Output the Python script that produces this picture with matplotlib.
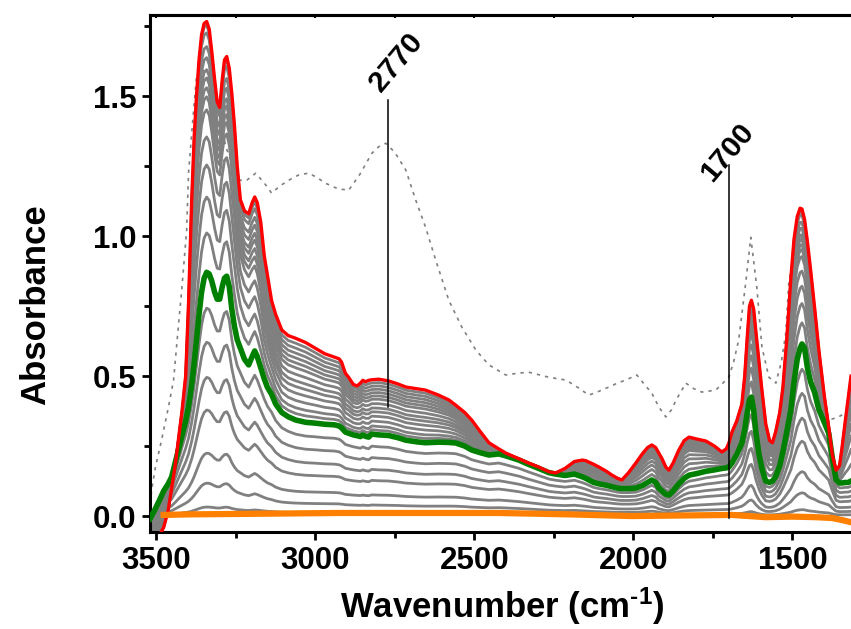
import numpy as np
import matplotlib
matplotlib.use("Agg")
import matplotlib.pyplot as plt
from matplotlib.ticker import MultipleLocator, FormatStrFormatter, NullFormatter

plt.rcParams["font.family"] = ["Liberation Sans", "DejaVu Sans"]
plt.rcParams["font.weight"] = "bold"
plt.rcParams["mathtext.fontset"] = "custom"
plt.rcParams["mathtext.rm"] = "Liberation Sans:bold"
plt.rcParams["mathtext.it"] = "Liberation Sans:bold"
plt.rcParams["mathtext.bf"] = "Liberation Sans:bold"

# --- spectra (wavenumber in cm-1, absorbance) ---
wavenumber = [3519, 3505, 3490, 3476, 3462, 3451, 3440, 3429, 3418, 3407,
              3398, 3388, 3380, 3373, 3365, 3357, 3349, 3341, 3333, 3325,
              3316, 3308, 3300, 3292, 3285, 3278, 3270, 3262, 3254, 3245,
              3235, 3222, 3209, 3198, 3190, 3182, 3171, 3160, 3150, 3137,
              3124, 3105, 3085, 3061, 3030, 3000, 2970, 2940, 2925, 2917,
              2905, 2895, 2880, 2868, 2858, 2850, 2842, 2832, 2822, 2800,
              2770, 2740, 2715, 2680, 2653, 2612, 2580, 2558, 2530, 2508,
              2480, 2454, 2423, 2401, 2360, 2330, 2297, 2265, 2244, 2215,
              2185, 2160, 2150, 2125, 2108, 2085, 2067, 2050, 2036, 2015,
              1992, 1970, 1955, 1942, 1930, 1920, 1910, 1898, 1888, 1875,
              1857, 1840, 1825, 1800, 1772, 1745, 1722, 1708, 1700, 1690,
              1675, 1659, 1650, 1642, 1635, 1629, 1622, 1615, 1605, 1596,
              1584, 1572, 1563, 1553, 1540, 1530, 1518, 1505, 1495, 1485,
              1476, 1470, 1462, 1453, 1443, 1430, 1417, 1400, 1386, 1375,
              1363, 1352, 1344, 1335, 1325, 1316]

red_abs = [-0.16, -0.11, -0.07, -0.04, 0.02, 0.10, 0.18, 0.28, 0.38, 0.50,
           0.76, 1.13, 1.36, 1.50, 1.63, 1.72, 1.76, 1.767, 1.74, 1.66,
           1.56, 1.48, 1.46, 1.56, 1.63, 1.642, 1.60, 1.51, 1.40, 1.25,
           1.13, 1.09, 1.08, 1.12, 1.14, 1.12, 1.05, 0.93, 0.86, 0.77,
           0.72, 0.665, 0.645, 0.635, 0.62, 0.60, 0.58, 0.568, 0.562, 0.55,
           0.51, 0.496, 0.47, 0.465, 0.475, 0.485, 0.48, 0.485, 0.487, 0.489,
           0.483, 0.472, 0.461, 0.455, 0.45, 0.432, 0.415, 0.396, 0.37, 0.343,
           0.30, 0.262, 0.240, 0.225, 0.205, 0.19, 0.175, 0.158, 0.154, 0.17,
           0.195, 0.20, 0.198, 0.185, 0.175, 0.16, 0.146, 0.135, 0.129, 0.155,
           0.19, 0.225, 0.245, 0.254, 0.245, 0.225, 0.205, 0.175, 0.164, 0.19,
           0.236, 0.27, 0.282, 0.275, 0.268, 0.25, 0.229, 0.24, 0.26, 0.30,
           0.34, 0.40, 0.50, 0.64, 0.75, 0.771, 0.74, 0.66, 0.55, 0.45,
           0.33, 0.27, 0.262, 0.30, 0.37, 0.46, 0.63, 0.85, 0.99, 1.07,
           1.10, 1.097, 1.06, 0.98, 0.88, 0.74, 0.593, 0.43, 0.318, 0.22,
           0.164, 0.18, 0.246, 0.33, 0.42, 0.50]

green_abs = [-0.01, 0.02, 0.055, 0.09, 0.115, 0.14, 0.19, 0.24, 0.29, 0.34,
             0.39, 0.47, 0.55, 0.63, 0.72, 0.80, 0.85, 0.871, 0.865, 0.84,
             0.80, 0.775, 0.775, 0.82, 0.85, 0.857, 0.82, 0.74, 0.68, 0.63,
             0.60, 0.56, 0.54, 0.57, 0.59, 0.57, 0.53, 0.49, 0.46, 0.435,
             0.40, 0.37, 0.355, 0.343, 0.335, 0.332, 0.328, 0.326, 0.322, 0.315,
             0.30, 0.296, 0.29, 0.287, 0.284, 0.29, 0.285, 0.282, 0.293, 0.290,
             0.288, 0.28, 0.271, 0.265, 0.262, 0.264, 0.263, 0.261, 0.25, 0.236,
             0.226, 0.218, 0.222, 0.215, 0.20, 0.185, 0.17, 0.155, 0.15, 0.145,
             0.15, 0.14, 0.135, 0.12, 0.115, 0.11, 0.105, 0.10, 0.098, 0.098,
             0.10, 0.11, 0.12, 0.129, 0.12, 0.10, 0.09, 0.078, 0.075, 0.09,
             0.115, 0.135, 0.146, 0.152, 0.16, 0.165, 0.17, 0.172, 0.175, 0.19,
             0.22, 0.261, 0.31, 0.37, 0.415, 0.425, 0.38, 0.30, 0.22, 0.17,
             0.125, 0.12, 0.125, 0.14, 0.18, 0.23, 0.30, 0.38, 0.48, 0.56,
             0.60, 0.615, 0.60, 0.53, 0.48, 0.44, 0.38, 0.335, 0.296, 0.21,
             0.13, 0.118, 0.118, 0.12, 0.12, 0.125]

orange_wn = [3476, 3400, 3200, 2926, 2700, 2423, 2200, 2005, 1850, 1690,
             1584, 1500, 1426, 1376, 1345, 1316]
orange_abs = [0.004, 0.006, 0.008, 0.011, 0.011, 0.011, 0.006, 0.0, 0.002, 0.004,
              -0.004, -0.002, -0.004, -0.007, -0.014, -0.022]

dotted_wn = [3523, 3514, 3502, 3483, 3461, 3445, 3429, 3420, 3404, 3398,
             3385, 3373, 3355, 3330, 3303, 3281, 3250, 3241, 3215, 3187,
             3160, 3137, 3110, 3083, 3050, 3020, 2995, 2967, 2930, 2895,
             2860, 2822, 2800, 2778, 2750, 2715, 2684, 2653, 2621, 2580,
             2539, 2495, 2454, 2401, 2365, 2329, 2266, 2212, 2175, 2140,
             2110, 2077, 2050, 2024, 1989, 1965, 1942, 1920, 1898, 1880,
             1866, 1835, 1810, 1785, 1741, 1700, 1685, 1669, 1647, 1631,
             1612, 1596, 1574, 1552, 1535, 1521, 1511, 1490, 1470, 1450,
             1430, 1417, 1386, 1355, 1320]
dotted_abs = [-0.014, 0.093, 0.175, 0.27, 0.39, 0.486, 0.69, 0.8, 1.02, 1.225,
              1.41, 1.57, 1.60, 1.55, 1.45, 1.32, 1.225, 1.2, 1.2, 1.225,
              1.19, 1.154, 1.18, 1.2, 1.22, 1.225, 1.21, 1.189, 1.17, 1.164,
              1.22, 1.296, 1.32, 1.332, 1.30, 1.236, 1.129, 1.032, 0.914, 0.771,
              0.675, 0.593, 0.54, 0.504, 0.51, 0.514, 0.496, 0.486, 0.46, 0.432,
              0.445, 0.461, 0.475, 0.486, 0.504, 0.47, 0.439, 0.39, 0.354, 0.38,
              0.414, 0.475, 0.455, 0.443, 0.45, 0.496, 0.55, 0.629, 0.832, 0.996,
              0.818, 0.604, 0.496, 0.475, 0.55, 0.654, 0.843, 0.95, 1.0, 0.85,
              0.6, 0.414, 0.343, 0.354, 0.379]

# grey traces below the green one: height of the 3340 band relative to green
lower_grey_frac = [0.853, 0.713, 0.569, 0.435, 0.258, 0.135, 0.037]
# grey traces between green and red: position between the two, read at the
# sharp bands (3340 cm-1) and in the broad region (2800 cm-1)
upper_grey_t_band = [0.157, 0.30, 0.428, 0.54, 0.648, 0.70, 0.736, 0.775,
                     0.808, 0.856, 0.90, 0.955, 0.985]
upper_grey_t_broad = [0.08, 0.15, 0.24, 0.33, 0.41, 0.48, 0.56, 0.64,
                      0.70, 0.76, 0.82, 0.88, 0.94]

# marked positions
marks = ["2770", "1700"]
mark_wn = [2770, 1700]
mark_line = [(0.389, 1.486), (-0.007, 1.254)]
mark_text = [(2745, 1.62), (1704, 1.30)]

wn = np.array(wavenumber)
red = np.array(red_abs)
green = np.array(green_abs)

fig = plt.figure(figsize=(8.51, 6.29), dpi=100)
ax = fig.add_axes([0.1763, 0.1542, 0.8237, 0.8218])

ax.plot(dotted_wn, dotted_abs, color="0.5", lw=1.2, ls=(0, (2, 3)), zorder=1)

for f in lower_grey_frac:
    ax.plot(wn, green * f, color="#808080", lw=2.0, zorder=2)

band_weight = np.interp(wn, [2300, 2450, 3100, 3250], [1, 0, 0, 1])
for tb, tr in zip(upper_grey_t_band, upper_grey_t_broad):
    t = tr + band_weight * (tb - tr)
    ax.plot(wn, green + t * (red - green), color="#808080", lw=2.0, zorder=2)

ax.plot(wn, green, color="#008000", lw=4.0, zorder=3)
ax.plot(wn, red, color="#ff0000", lw=2.4, zorder=3)
ax.plot(orange_wn, orange_abs, color="#ff8000", lw=4.5, zorder=4)

for lab, x, (y0, y1), (tx, ty) in zip(marks, mark_wn, mark_line, mark_text):
    ax.plot([x, x], [y0, y1], color="black", lw=1.1, zorder=5)
    ax.text(tx, ty, lab, rotation=50, ha="center", va="center",
            rotation_mode="anchor", fontsize=21.5, fontweight="bold")

ax.set_xlim(3519, 1316)
ax.set_ylim(-0.057, 1.79)

ax.xaxis.set_major_locator(MultipleLocator(500))
ax.xaxis.set_minor_locator(MultipleLocator(250))
ax.yaxis.set_major_locator(MultipleLocator(0.5))
ax.yaxis.set_minor_locator(MultipleLocator(0.25))
ax.yaxis.set_major_formatter(FormatStrFormatter("%.1f"))

for side in ["left", "bottom", "top"]:
    ax.spines[side].set_linewidth(2.2)
ax.spines["right"].set_visible(False)

ax.tick_params(axis="both", which="major", direction="out", length=6, width=2,
               labelsize=22.5, pad=4)
ax.tick_params(axis="both", which="minor", direction="out", length=4.5, width=2)

# small inward ticks along the top edge
top = ax.secondary_xaxis("top")
top.spines["top"].set_linewidth(2.2)
top.xaxis.set_major_locator(MultipleLocator(250))
top.xaxis.set_major_formatter(NullFormatter())
top.tick_params(axis="x", which="both", direction="in", length=2.5, width=1.5)

fig.text(502 / 851, 11 / 629, r"Wavenumber (cm$^{\text{-}1}$)", ha="center",
         va="baseline", fontsize=25, fontweight="bold")
fig.text(45 / 851, 0.515, "Absorbance", rotation=90, ha="center",
         va="baseline", rotation_mode="anchor", fontsize=25, fontweight="bold")

fig.savefig("out.png", dpi=100)
